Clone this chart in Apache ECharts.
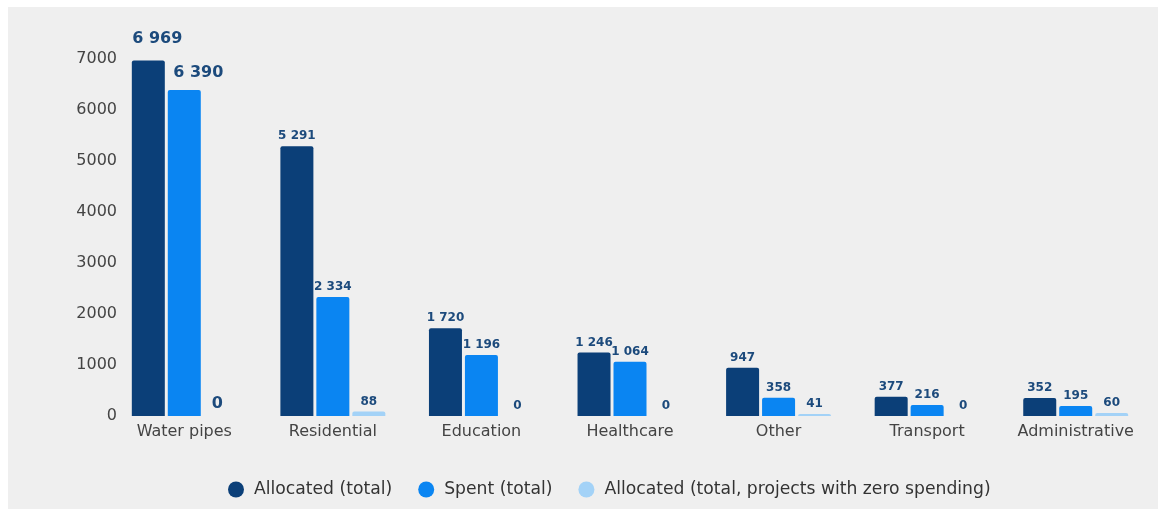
<!DOCTYPE html>
<html>
<head>
<meta charset="utf-8">
<script src="https://cdn.jsdelivr.net/npm/echarts@6/dist/echarts.min.js"></script>
<style>
  html, body { margin: 0; padding: 0; background: #ffffff; }
  #chart { position: absolute; left: 8px; top: 7px; width: 1150px; height: 502px; background: #efefef; }
</style>
</head>
<body>
<div id="chart"></div>
<script>
// Spending by sector
const categories = ['Water pipes', 'Residential', 'Education', 'Healthcare', 'Other', 'Transport', 'Administrative'];
const allocatedTotal = [6969, 5291, 1720, 1246, 947, 377, 352];
const spentTotal = [6390, 2334, 1196, 1064, 358, 216, 195];
const allocatedZeroSpending = [0, 88, 0, 0, 41, 0, 60];
const seriesNames = ['Allocated (total)', 'Spent (total)', 'Allocated (total, projects with zero spending)'];
const seriesColors = ['#0b3f78', '#0a85f2', '#a3d2f7'];
const yTicks = [0, 1000, 2000, 3000, 4000, 5000, 6000, 7000];

const fontFamily = '"DejaVu Sans", "Noto Sans", sans-serif';
// placement of the large labels on the first group, per series
const leadLabelStyle = [
  { distance: 14, offset: [9, 0] },
  { distance: 9, offset: [14, 0] },
  { distance: 4, offset: [-3, 0] }
];

function fmt(v) {
  return String(v).replace(/\B(?=(\d{3})+(?!\d))/g, ' ');
}

// first category gets larger value labels
function withLabels(values, k) {
  return values.map((v, i) => i === 0
    ? { value: v, label: Object.assign({ fontSize: 16 }, leadLabelStyle[k]) }
    : { value: v });
}

const chart = echarts.init(document.getElementById('chart'));
chart.setOption({
  backgroundColor: '#efefef',
  animation: false,
  grid: { left: 102, right: 8, top: 52, bottom: 93 },
  legend: {
    bottom: 6,
    left: 215,
    icon: 'circle',
    itemWidth: 16,
    itemHeight: 16,
    itemGap: 26,
    textStyle: { color: '#333', fontSize: 17.2, fontFamily: fontFamily, padding: [0, 0, 0, 5] },
    data: seriesNames
  },
  xAxis: {
    type: 'category',
    data: categories,
    axisLine: { show: false },
    axisTick: { show: false },
    axisLabel: { color: '#444', fontSize: 16, fontFamily: fontFamily, margin: 8, interval: 0 }
  },
  yAxis: {
    type: 'value',
    min: yTicks[0],
    max: yTicks[yTicks.length - 1],
    interval: 1000,
    splitLine: { show: false },
    axisLine: { show: false },
    axisTick: { show: false },
    axisLabel: {
      color: '#444', fontSize: 16, fontFamily: fontFamily, margin: -7,
      formatter: v => String(v)
    }
  },
  series: [allocatedTotal, spentTotal, allocatedZeroSpending].map((vals, k) => ({
    name: seriesNames[k],
    type: 'bar',
    data: withLabels(vals, k),
    barWidth: 33,
    barGap: '9%',
    itemStyle: {
      color: seriesColors[k],
      borderRadius: [2, 2, 0, 0]
    },
    label: {
      show: true,
      position: 'top',
      distance: 4,
      color: '#1c4a7c',
      fontWeight: 'bold',
      fontSize: 12,
      fontFamily: fontFamily,
      formatter: p => fmt(p.value)
    }
  }))
});
</script>
</body>
</html>
